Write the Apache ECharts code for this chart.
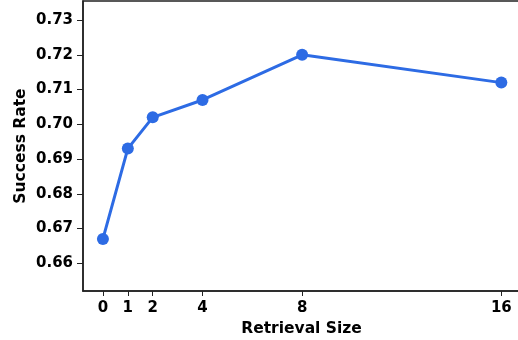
<!DOCTYPE html>
<html>
<head>
<meta charset="utf-8">
<script src="https://cdn.jsdelivr.net/npm/echarts@6/dist/echarts.min.js"></script>
<style>
  html, body { margin: 0; padding: 0; background: #fff; }
  #chart { width: 518px; height: 340px; }
</style>
</head>
<body>
<div id="chart"></div>
<script>
const retrievalSizes = [0, 1, 2, 4, 8, 16];
const successRates = [0.667, 0.693, 0.702, 0.707, 0.72, 0.712];
const yTicks = [0.66, 0.67, 0.68, 0.69, 0.70, 0.71, 0.72, 0.73];

const chart = echarts.init(document.getElementById("chart"));
const font = "DejaVu Sans";
const lineColor = "#2d6be4";

chart.setOption({
  animation: false,
  grid: {
    left: 83, right: -2, top: 1, bottom: 49,
    outerBoundsMode: "none",
    containLabel: false,
    show: true, borderColor: "#222", borderWidth: 1.5,
  },
  xAxis: {
    type: "value",
    min: -0.8,
    max: 16.75,
    name: "Retrieval Size",
    nameLocation: "middle",
    nameGap: 29,
    nameTextStyle: { fontFamily: font, fontWeight: "bold", fontSize: 15.5, color: "#000" },
    axisLine: { onZero: false, lineStyle: { color: "#222", width: 1.5 } },
    axisTick: { show: true, length: 5, customValues: retrievalSizes, lineStyle: { color: "#222" } },
    axisLabel: {
      customValues: retrievalSizes,
      margin: 10,
      fontFamily: font, fontWeight: "bold", fontSize: 15, color: "#000",
    },
    splitLine: { show: false },
  },
  yAxis: {
    type: "value",
    min: 0.652,
    max: 0.7355,
    name: "Success Rate",
    nameLocation: "middle",
    nameGap: 54,
    nameMoveOverlap: false,
    nameTextStyle: { fontFamily: font, fontWeight: "bold", fontSize: 15.5, color: "#000" },
    axisLine: { show: true, onZero: false, lineStyle: { color: "#222", width: 1.5 } },
    axisTick: { show: true, length: 6, customValues: yTicks, lineStyle: { color: "#222" } },
    axisLabel: {
      customValues: yTicks,
      margin: 10,
      formatter: (v) => v.toFixed(2),
      fontFamily: font, fontWeight: "bold", fontSize: 15, color: "#000",
    },
    splitLine: { show: false },
  },
  series: [
    {
      type: "line",
      data: retrievalSizes.map((x, i) => [x, successRates[i]]),
      symbol: "circle",
      symbolSize: 12,
      lineStyle: { color: lineColor, width: 3 },
      itemStyle: { color: lineColor },
    },
  ],
});
</script>
</body>
</html>
